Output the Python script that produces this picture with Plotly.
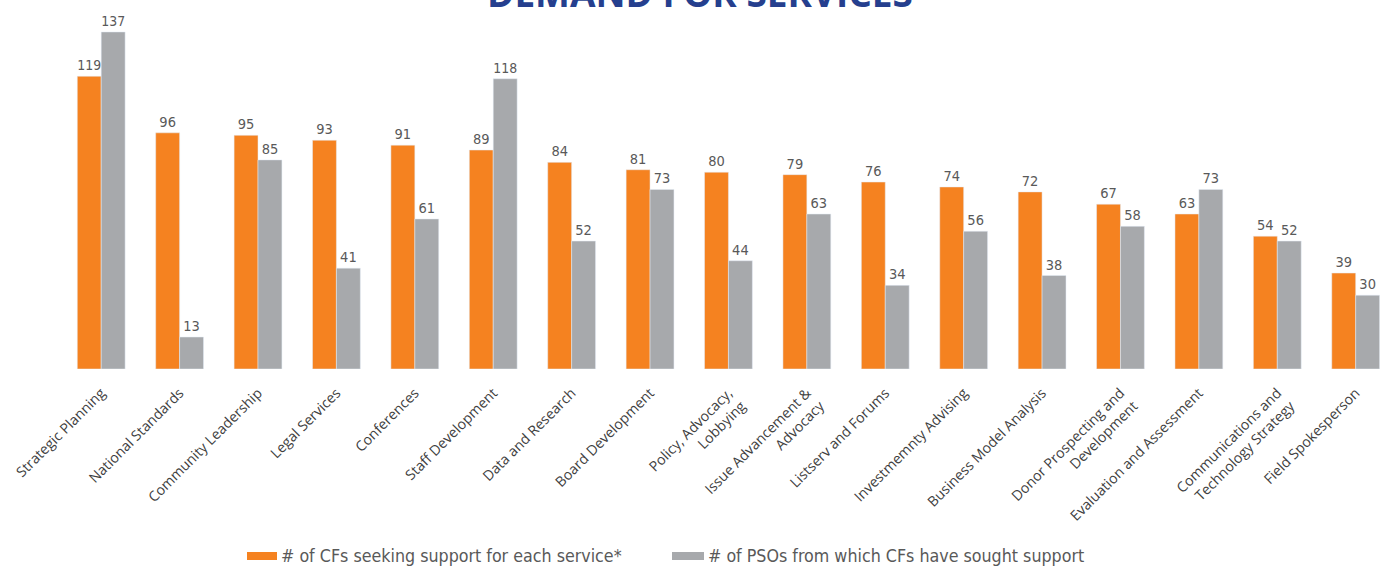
import plotly.graph_objects as go

categories = ["Strategic Planning", "National Standards", "Community Leadership", "Legal Services",
              "Conferences", "Staff Development", "Data and Research", "Board Development",
              "Policy, Advocacy,<br>Lobbying", "Issue Advancement &<br>Advocacy", "Listserv and Forums",
              "Investmemnty Advising", "Business Model Analysis", "Donor Prospecting and<br>Development",
              "Evaluation and Assessment", "Communications and<br>Technology Strategy", "Field Spokesperson"]
cfs_seeking = [119, 96, 95, 93, 91, 89, 84, 81, 80, 79, 76, 74, 72, 67, 63, 54, 39]
psos_sought = [137, 13, 85, 41, 61, 118, 52, 73, 44, 63, 34, 56, 38, 58, 73, 52, 30]
series_names = ["# of CFs seeking support for each service*", "# of PSOs from which CFs have sought support"]

ORANGE = "#F58220"
GRAY = "#A7A9AC"
NARROW = "Liberation Sans Narrow, DejaVu Sans Condensed, sans-serif"
xs = list(range(len(categories)))
label_font = dict(family=NARROW, size=14.5, color="#595959")

W, H = 1380, 566
ML, MB, MT = 62, 197, 0
PW, PH = W - ML, H - MB - MT

def px_to_paper_x(px):
    return (px - ML) / PW

def px_to_paper_y(py):
    return (H - MB - py) / PH

fig = go.Figure()
fig.add_trace(go.Bar(x=xs, y=cfs_seeking, name=series_names[0], marker_color=ORANGE,
                     text=cfs_seeking, textposition="outside", textfont=label_font, cliponaxis=False))
fig.add_trace(go.Bar(x=xs, y=psos_sought, name=series_names[1], marker_color=GRAY,
                     text=psos_sought, textposition="outside", textfont=label_font, cliponaxis=False))

# legend drawn as swatches + text in paper coordinates
legend_items = [(series_names[0], ORANGE, 247, 277), (series_names[1], GRAY, 672, 704)]
shapes, annotations = [], []
for name, color, x0, x1 in legend_items:
    shapes.append(dict(type="rect", xref="paper", yref="paper",
                       x0=px_to_paper_x(x0), x1=px_to_paper_x(x1),
                       y0=px_to_paper_y(560), y1=px_to_paper_y(552),
                       fillcolor=color, line=dict(width=0)))
    annotations.append(dict(text=name, xref="paper", yref="paper",
                            x=px_to_paper_x(x1 + 2), y=px_to_paper_y(556),
                            xanchor="left", yanchor="middle", showarrow=False,
                            font=dict(family=NARROW, size=17.7, color="#595959")))

annotations.append(dict(text="<b>DEMAND FOR SERVICES</b>", xref="paper", yref="paper",
                        x=px_to_paper_x(700), y=1, xanchor="center", yanchor="bottom",
                        yshift=-20, showarrow=False,
                        font=dict(family="Open Sans", size=37, color="#253F8E")))

fig.update_layout(
    width=W, height=H,
    barmode="group", bargap=0.39, bargroupgap=0,
    plot_bgcolor="white", paper_bgcolor="white",
    margin=dict(l=ML, r=0, t=MT, b=MB, autoexpand=False),
    showlegend=False,
    xaxis=dict(tickmode="array", tickvals=xs, ticktext=categories, range=[-0.5, 16.31],
               tickangle=-45, showgrid=False, zeroline=False, showline=False, ticks="",
               automargin=False, ticklabelstandoff=12,
               tickfont=dict(family="Open Sans", size=14.2, color="#404040")),
    yaxis=dict(range=[0, 150], visible=False, showgrid=False, zeroline=False, automargin=False),
    shapes=shapes,
    annotations=annotations,
)

fig.write_html("out.html", config={"displayModeBar": False},
               post_script="document.body.style.margin='0';")
